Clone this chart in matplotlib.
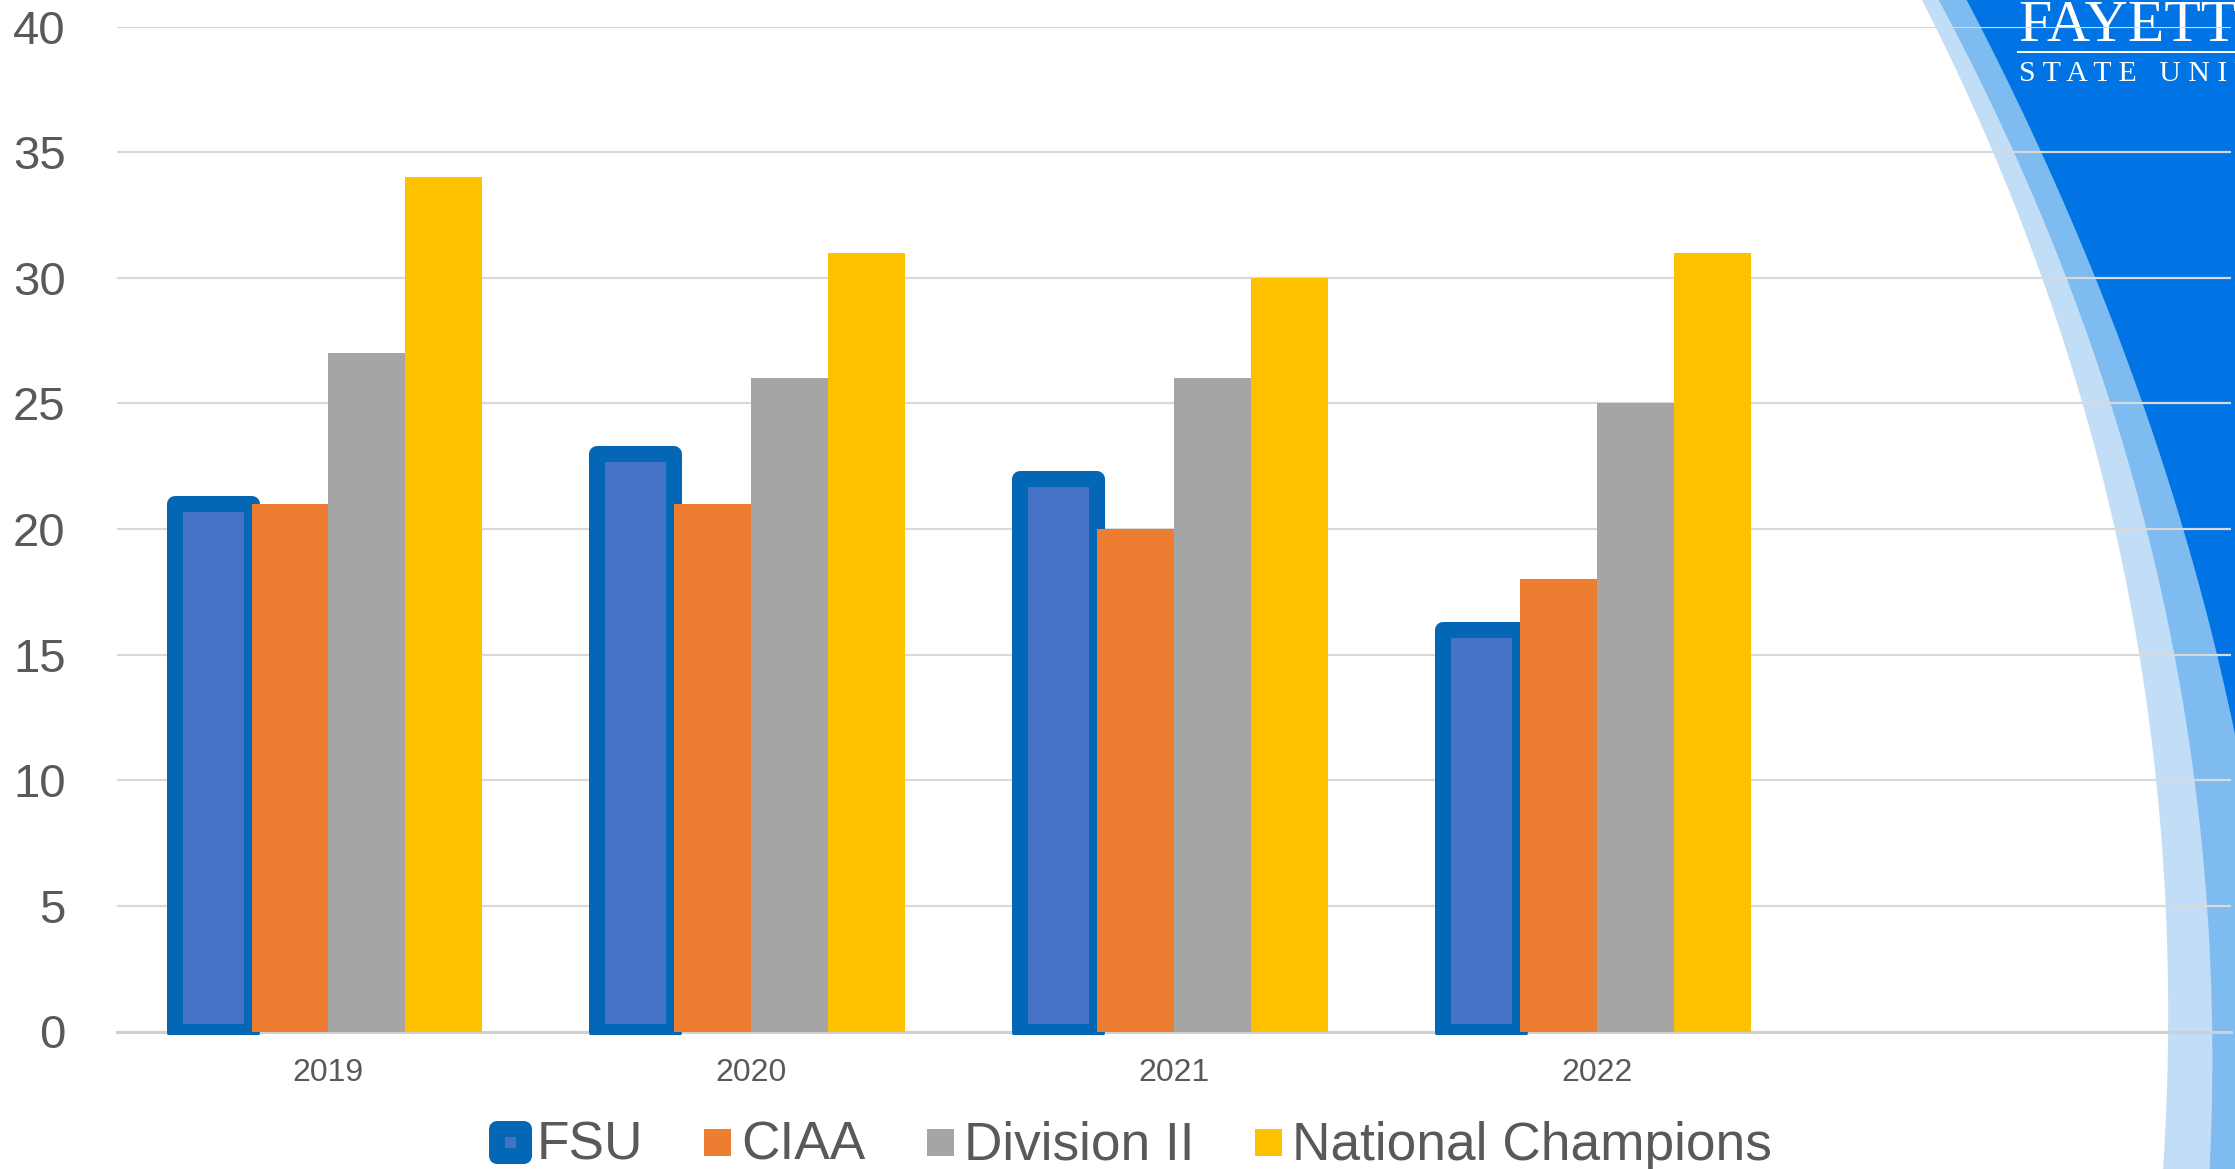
import matplotlib
matplotlib.use('Agg')
import matplotlib.pyplot as plt
import numpy as np
from matplotlib.patches import Polygon, Rectangle
from matplotlib.lines import Line2D

# ---------------- data ----------------
years = ['2019', '2020', '2021', '2022']
series_names = ['FSU', 'CIAA', 'Division II', 'National Champions']
fsu_values = [21, 23, 22, 16]
ciaa_values = [21, 21, 20, 18]
div2_values = [27, 26, 26, 25]
natl_values = [34, 31, 30, 31]
y_tick_values = [0, 5, 10, 15, 20, 25, 30, 35, 40]

# ---------------- figure ----------------
W, H = 2235, 1169
DPI = 100
fig = plt.figure(figsize=(W / DPI, H / DPI), dpi=DPI)
fig.patch.set_facecolor('white')

def fx(x):
    return x / W

def fy(y):
    return 1 - y / H

def px2pt(p):
    return p * 72.0 / DPI

TEXT = '#595959'
SANS = ['Liberation Sans', 'DejaVu Sans']
SERIF = ['Liberation Serif', 'DejaVu Serif']

# ---------------- background decoration (slide template) ----------------
def band(points, color, z, deg=3, ymax=H + 20):
    ys = np.array([p[0] for p in points], float)
    xs = np.array([p[1] for p in points], float)
    coef = np.polyfit(ys, xs, deg)
    yy = np.linspace(-20, ymax, 200)
    xx = np.polyval(coef, yy)
    pts = [(fx(a), fy(b)) for a, b in zip(xx, yy)]
    pts += [(fx(W + 400), fy(ymax)), (fx(W + 400), fy(-20))]
    fig.add_artist(Polygon(pts, closed=True, transform=fig.transFigure,
                           facecolor=color, edgecolor='none', zorder=z))

band([(0, 1922), (150, 1992), (300, 2049), (450, 2097), (600, 2129),
      (750, 2152), (900, 2166), (1035, 2168), (1169, 2163)], '#C2DEF7', -5)
band([(0, 1940), (150, 2010), (300, 2075), (450, 2127), (600, 2163),
      (750, 2190), (900, 2206), (1035, 2212), (1169, 2210)], '#7EBBF1', -4)
band([(0, 1966), (150, 2040), (300, 2107), (450, 2157), (600, 2203),
      (750, 2236), (850, 2258)], '#0074E4', -3, deg=2, ymax=900)

# logo text
fig.text(fx(2018), fy(41), 'FAYETTEVILLE', color='white', family=SERIF,
         fontsize=43, ha='left', va='baseline', zorder=-1)
fig.add_artist(Line2D([fx(2018), fx(W + 5)], [fy(52), fy(52)],
                      transform=fig.transFigure, color='white',
                      linewidth=px2pt(2), zorder=-1))
fig.text(fx(2019), fy(81), 'S T A T E   U N I V E R S I T Y', color='white',
         family=SERIF, fontsize=21.5, ha='left', va='baseline', zorder=-1)

# ---------------- axes ----------------
ax_left, ax_right = 117, 2231
ax_top, ax_bottom = 26.5, 1031.5
ax = fig.add_axes([fx(ax_left), fy(ax_bottom),
                   (ax_right - ax_left) / W, (ax_bottom - ax_top) / H])
ax.set_facecolor('none')
ax.set_zorder(0)

n_slots = 5  # category axis has one empty trailing slot
ax.set_xlim(-0.5, n_slots - 0.5)
ax.set_ylim(0, 40)

x = np.arange(len(years))
w = 1 / 5.5

FSU_FILL = '#4472C4'
FSU_EDGE = '#0467B6'
colors = ['#ED7D31', '#A5A5A5', '#FFC000']

fsu_bars = ax.bar(x - 1.5 * w, fsu_values, w, color=FSU_FILL,
                  edgecolor=FSU_EDGE, linewidth=px2pt(16), joinstyle='round',
                  zorder=2)
# clip FSU bars a few pixels below the baseline (as in the source chart)
clip_rect = Rectangle((fx(ax_left - 20), fy(ax_bottom + 3)),
                      (ax_right - ax_left + 40) / W, (ax_bottom + 3) / H,
                      transform=fig.transFigure, facecolor='none',
                      edgecolor='none')
for b in fsu_bars:
    b.set_clip_path(clip_rect)
ax.bar(x - 0.5 * w, ciaa_values, w, color=colors[0], linewidth=0, zorder=3)
ax.bar(x + 0.5 * w, div2_values, w, color=colors[1], linewidth=0, zorder=3)
ax.bar(x + 1.5 * w, natl_values, w, color=colors[2], linewidth=0, zorder=3)

ax.set_axisbelow(True)
ax.yaxis.grid(True, color='#D9D9D9', linewidth=px2pt(2.2))
ax.xaxis.grid(False)
for s in ['left', 'right', 'top']:
    ax.spines[s].set_visible(False)
ax.spines['bottom'].set_color('#D0D0D0')
ax.spines['bottom'].set_linewidth(px2pt(3))
ax.spines['bottom'].set_zorder(1.5)

ax.set_yticks(y_tick_values)
ax.set_yticklabels([str(v) for v in y_tick_values])
ax.set_xticks(x)
ax.set_xticklabels(years)
ax.tick_params(axis='y', length=0, pad=37, labelsize=34, labelcolor=TEXT)
ax.tick_params(axis='x', length=0, pad=19, labelsize=23, labelcolor=TEXT)
for lab in ax.get_xticklabels() + ax.get_yticklabels():
    lab.set_family(SANS)

# ---------------- legend (manual, figure pixels) ----------------
fig.canvas.draw()
renderer = fig.canvas.get_renderer()

leg_entries = [
    (series_names[0], FSU_FILL, FSU_EDGE, 16),
    (series_names[1], colors[0], None, 0),
    (series_names[2], colors[1], None, 0),
    (series_names[3], colors[2], None, 0),
]
msize = 27
mcy = 1142.5
baseline = 1160
cur = 489
for name, fc, ec, bw in leg_entries:
    half = bw / 2
    left = cur + half
    rect = Rectangle((fx(left), fy(mcy + msize / 2)), msize / W, msize / H,
                     transform=fig.transFigure, facecolor=fc,
                     edgecolor=ec if ec else 'none',
                     linewidth=px2pt(bw) if bw else 0, joinstyle='round',
                     zorder=5)
    fig.add_artist(rect)
    gap = 5 if bw else 10
    tx = left + msize + half + gap
    t = fig.text(fx(tx), fy(baseline), name, family=SANS, fontsize=38.3,
                 color=TEXT, ha='left', va='baseline', zorder=5)
    bb = t.get_window_extent(renderer)
    cur = tx + bb.width + 61

fig.savefig('out.png', dpi=DPI, facecolor='white')
